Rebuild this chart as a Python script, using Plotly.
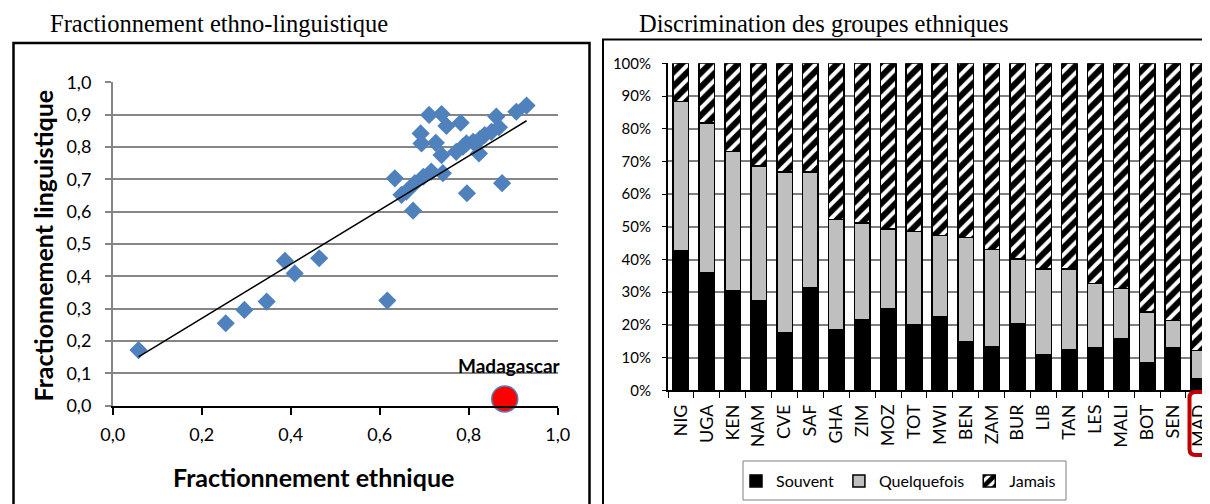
import numpy as np
import plotly.graph_objects as go

# The page body adds an 8px margin; the figure is sized so that it fills the
# 1210x504 window exactly from that offset.
OFF = 8
FW, FH = 1210 - OFF, 504 - OFF

# ---------------- data: scatter ----------------
frac_ethnique = [0.058, 0.254, 0.296, 0.346, 0.387, 0.409, 0.464, 0.617,
                 0.930, 0.907, 0.862, 0.868, 0.851, 0.836, 0.825, 0.810, 0.823,
                 0.795, 0.787, 0.772, 0.782, 0.750, 0.739, 0.711, 0.692, 0.694,
                 0.726, 0.739, 0.742, 0.716, 0.698, 0.679, 0.660, 0.649, 0.634,
                 0.675, 0.796, 0.875]
frac_linguistique = [0.172, 0.255, 0.296, 0.322, 0.448, 0.409, 0.456, 0.325,
                     0.928, 0.909, 0.894, 0.861, 0.847, 0.837, 0.824, 0.816, 0.780,
                     0.811, 0.801, 0.785, 0.875, 0.865, 0.902, 0.899, 0.842, 0.811,
                     0.813, 0.775, 0.719, 0.724, 0.708, 0.688, 0.662, 0.652, 0.703,
                     0.603, 0.657, 0.688]
mad_ethnique = [0.881]
mad_linguistique = [0.021]

# ---------------- data: bars ----------------
pays = ["NIG", "UGA", "KEN", "NAM", "CVE", "SAF", "GHA", "ZIM", "MOZ", "TOT", "MWI",
        "BEN", "ZAM", "BUR", "LIB", "TAN", "LES", "MALI", "BOT", "SEN", "MAD"]
souvent = [42.6, 36.0, 30.4, 27.3, 17.6, 31.4, 18.6, 21.7, 24.8, 20.0, 22.5,
           14.7, 13.3, 20.5, 11.0, 12.5, 13.0, 15.8, 8.3, 13.1, 3.5]
cumul_quelquefois = [88.3, 81.8, 73.0, 68.6, 66.7, 66.7, 52.3, 51.1, 49.3, 48.5, 47.3,
                     46.8, 43.1, 40.1, 37.1, 37.1, 32.7, 31.2, 24.0, 21.3, 12.1]
quelquefois = [round(c - s, 1) for c, s in zip(cumul_quelquefois, souvent)]
jamais = [round(100 - c, 1) for c in cumul_quelquefois]

FONT = "Lato"

def px(x):
    return (x - OFF) / FW

def py(y):
    return 1 - (y - OFF) / FH

fig = go.Figure()

# scatter points
fig.add_trace(go.Scatter(
    x=frac_ethnique, y=frac_linguistique, mode="markers",
    marker=dict(symbol="diamond", size=14, color="#4F81BD", line=dict(width=0)),
    showlegend=False, xaxis="x", yaxis="y", cliponaxis=False))

# linear trend line (fitted on all countries, Madagascar included)
all_x = np.array(frac_ethnique + mad_ethnique)
all_y = np.array(frac_linguistique + mad_linguistique)
a, b = np.polyfit(all_x, all_y, 1)
xs = np.array([all_x.min(), all_x.max()])
fig.add_trace(go.Scatter(
    x=xs, y=a * xs + b, mode="lines", line=dict(color="black", width=1.5),
    showlegend=False, xaxis="x", yaxis="y"))

# Madagascar
fig.add_trace(go.Scatter(
    x=mad_ethnique, y=mad_linguistique, mode="markers",
    marker=dict(symbol="circle", size=26, color="#FF0000",
                line=dict(color="#4F81BD", width=1.5)),
    showlegend=False, xaxis="x", yaxis="y", cliponaxis=False))

# stacked bars
fig.add_trace(go.Bar(
    x=pays, y=souvent, name="Souvent", width=0.6,
    marker=dict(color="black", line=dict(color="black", width=1.5)),
    xaxis="x2", yaxis="y2"))
fig.add_trace(go.Bar(
    x=pays, y=quelquefois, name="Quelquefois", width=0.6,
    marker=dict(color="#BFBFBF", line=dict(color="black", width=1.5)),
    xaxis="x2", yaxis="y2"))
fig.add_trace(go.Bar(
    x=pays, y=jamais, name="Jamais", width=0.6,
    marker=dict(color="white", line=dict(color="black", width=1.5),
                pattern=dict(shape="/", fgcolor="black", bgcolor="white",
                             fgopacity=1, size=10, solidity=0.6)),
    xaxis="x2", yaxis="y2"))

grid = "#868686"

fig.update_layout(
    width=FW, height=FH,
    margin=dict(l=0, r=0, t=0, b=0, pad=0, autoexpand=False),
    paper_bgcolor="white", plot_bgcolor="white",
    separators=", ",
    font=dict(family=FONT, color="black", size=16),
    barmode="stack",
    xaxis=dict(domain=[px(112.7), px(557.7)], range=[0, 1], dtick=0.2, tick0=0,
               tickformat=".1f", showgrid=False, zeroline=False,
               showline=True, linecolor="black", linewidth=2,
               ticks="outside", ticklen=7, tickcolor="black", tickwidth=1.5,
               ticklabelstandoff=5, tickfont=dict(size=18), anchor="y",
               automargin=False),
    yaxis=dict(domain=[py(405.7), py(82.3)], range=[0, 1], dtick=0.1, tick0=0,
               tickformat=".1f", showgrid=True, gridcolor=grid, gridwidth=1.5,
               zeroline=False, showline=True, linecolor=grid, linewidth=1.5,
               ticks="outside", ticklen=6, tickcolor=grid, tickwidth=1.5,
               ticklabelstandoff=10, tickfont=dict(size=18), anchor="x",
               automargin=False),
    xaxis2=dict(domain=[px(668), 1.0], type="category", range=[-0.5, 20.43],
                showgrid=False, zeroline=False, showline=True, linecolor="black",
                linewidth=2, ticks="outside", tickson="boundaries", ticklen=6,
                tickcolor="black", tickangle=-90, tickfont=dict(size=18),
                ticklabelstandoff=5, anchor="y2", automargin=False),
    yaxis2=dict(domain=[py(390.3), py(63.3)], range=[0, 100], dtick=10, tick0=0,
                ticksuffix="%", showgrid=True, gridcolor="#7f7f7f", gridwidth=1.5,
                zeroline=False, showline=True, linecolor="black", linewidth=2,
                ticks="outside", ticklen=4, tickcolor="black",
                ticklabelstandoff=8, tickfont=dict(size=15), anchor="x2",
                automargin=False),
    legend=dict(orientation="h", x=px(736), y=py(481), xanchor="left",
                yanchor="middle", borderwidth=0, bgcolor="rgba(0,0,0,0)",
                font=dict(size=16), traceorder="normal", itemwidth=30),
    bargap=0.4,
)

# annotations (titles, axis titles, labels)
ann = [
    dict(text="Fractionnement ethno-linguistique", x=px(48), y=py(24),
         xanchor="left", yanchor="middle",
         font=dict(family="Liberation Serif", size=24.5)),
    dict(text="Discrimination des groupes ethniques", x=px(637), y=py(24),
         xanchor="left", yanchor="middle",
         font=dict(family="Liberation Serif", size=24.5)),
    dict(text="<b>Fractionnement linguistique</b>", x=px(42.5), y=py(246),
         xanchor="center", yanchor="middle", textangle=-90,
         font=dict(size=25)),
    dict(text="<b>Fractionnement ethnique</b>", x=px(313.5), y=py(477),
         xanchor="center", yanchor="middle", font=dict(size=25)),
    dict(text="<b>Madagascar</b>", x=px(562.7), y=py(365),
         xanchor="right", yanchor="middle", font=dict(size=19)),
]
for a_ in ann:
    a_.update(xref="paper", yref="paper", showarrow=False)
    fig.add_annotation(**a_)

# panel borders
fig.add_shape(type="rect", xref="paper", yref="paper",
              x0=px(13.5), x1=px(589.5), y0=-0.05, y1=py(43),
              line=dict(color="black", width=2.5))
fig.add_shape(type="rect", xref="paper", yref="paper",
              x0=px(603), x1=1.05, y0=-0.05, y1=py(39.5),
              line=dict(color="black", width=2))

# legend frame
fig.add_shape(type="rect", xref="paper", yref="paper",
              x0=px(743), x1=px(1066), y0=py(500), y1=py(461),
              line=dict(color="#7f7f7f", width=1))

# red rounded box around MAD label
r = 6
x0, x1, y0, y1 = 1189.5, 1222, 392, 455
path = (f"M {px(x0 + r)} {py(y0)} L {px(x1)} {py(y0)} L {px(x1)} {py(y1)} "
        f"L {px(x0 + r)} {py(y1)} Q {px(x0)} {py(y1)} {px(x0)} {py(y1 - r)} "
        f"L {px(x0)} {py(y0 + r)} Q {px(x0)} {py(y0)} {px(x0 + r)} {py(y0)} Z")
fig.add_shape(type="path", xref="paper", yref="paper", path=path,
              line=dict(color="#C00000", width=4))

fig.write_html("out.html")
